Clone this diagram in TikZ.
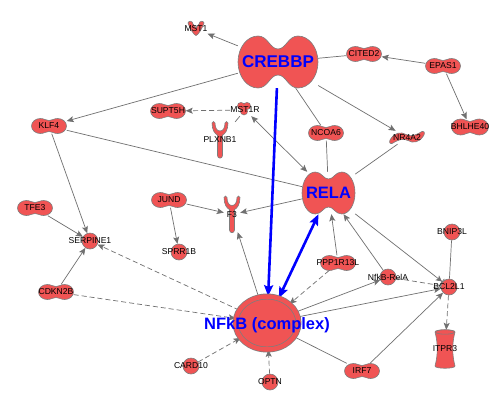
\documentclass[tikz,border=0pt]{standalone}
\usepackage{fontspec}
\setmainfont{Liberation Sans}
\usetikzlibrary{arrows.meta,shapes.geometric}
\definecolor{genered}{RGB}{240,84,84}
\definecolor{rimgray}{RGB}{125,125,125}
\definecolor{edgegray}{RGB}{112,112,112}
\pgfdeclarelayer{paper}
\pgfdeclarelayer{edgelayer}
\pgfdeclarelayer{shapelayer}
\pgfsetlayers{paper,edgelayer,shapelayer,main}
\tikzset{
  blob/.style={fill=genered, draw=rimgray, line width=0.6pt},
  pics/peanut/.style n args={3}{code={
    \path[blob] (0,-#3) .. controls ({0.2*#1},-#3) and ({0.25*#1},-#2) .. ({0.5*#1},-#2)
      .. controls ({0.776*#1},-#2) and (#1,{-0.552*#2}) .. (#1,0)
      .. controls (#1,{0.552*#2}) and ({0.776*#1},#2) .. ({0.5*#1},#2)
      .. controls ({0.25*#1},#2) and ({0.2*#1},#3) .. (0,#3)
      .. controls ({-0.2*#1},#3) and ({-0.25*#1},#2) .. ({-0.5*#1},#2)
      .. controls ({-0.776*#1},#2) and (-#1,{0.552*#2}) .. (-#1,0)
      .. controls (-#1,{-0.552*#2}) and ({-0.776*#1},-#2) .. ({-0.5*#1},-#2)
      .. controls ({-0.25*#1},-#2) and ({-0.2*#1},-#3) .. (0,-#3) -- cycle;
  }},
  pics/cup/.style={code={
    \path[blob] (-8,-6) .. controls (-7.5,-8.5) and (-3.5,-8.5) .. (-3,-5) -- (0,-1) -- (3,-5)
      .. controls (3.5,-8.5) and (7.5,-8.5) .. (8,-6) .. controls (6,0) and (2,6) .. (0,6.5)
      .. controls (-2,6) and (-6,0) .. (-8,-6) -- cycle;
  }},
  pics/trefoil/.style={code={
    \path[draw=rimgray, line width=1.2pt] (-3,-2.5) circle [radius=3.3] (3,-2.5) circle [radius=3.3] (0,2.8) circle [radius=3.3];
    \path[fill=genered] (-3,-2.5) circle [radius=3.3] (3,-2.5) circle [radius=3.3] (0,2.8) circle [radius=3.3];
  }},
  pics/fork/.style={code={
    \path[blob] (-8,-17) .. controls (-8,-10) and (-5,-6) .. (-2.5,-5) -- (-2.5,15.5)
      .. controls (-2.5,19) and (2.5,19) .. (2.5,15.5) -- (2.5,-5)
      .. controls (5,-6) and (8,-10) .. (8,-17) .. controls (8,-19) and (5,-19) .. (5,-17)
      .. controls (5,-12) and (3,-9) .. (0,-9) .. controls (-3,-9) and (-5,-12) .. (-5,-17)
      .. controls (-5,-19) and (-8,-19) .. (-8,-17) -- cycle;
  }},
  pics/channel/.style={code={
    \path[blob] (-10,-17) .. controls (-7,-6) and (-7,6) .. (-10,17) .. controls (-10,20) and (10,20) .. (10,17)
      .. controls (7,6) and (7,-6) .. (10,-17) .. controls (10,-20) and (-10,-20) .. (-10,-17) -- cycle;
    \path[blob] (0,-17) ellipse [x radius=9.5, y radius=2.2];
  }},
  pics/ribbon/.style={code={
    \path[blob] (-16,1) .. controls (-12,-5) and (-6,-6) .. (-1,-3) .. controls (4,0) and (10,-3) .. (15,-6)
      .. controls (18,-7) and (18,-3) .. (16,-1) .. controls (12,5) and (6,6) .. (1,3)
      .. controls (-4,0) and (-10,3) .. (-15,6) .. controls (-18,7) and (-18,3) .. (-16,1) -- cycle;
  }},
}
\begin{document}
\begin{tikzpicture}[x=1pt, y=-1pt,
  gene/.style={font=\fontsize{8.6}{10}\selectfont, inner sep=0pt},
  pea/.style={gene, minimum width=35pt, minimum height=15pt},
  spot/.style={circle, fill=genered, draw=rimgray, line width=0.6pt, minimum size=16pt, inner sep=0pt},
  hub/.style={font=\fontsize{17}{18}\selectfont\bfseries, text=blue, inner sep=0pt},
  touch/.style={draw=edgegray, line width=0.7pt},
  push/.style={touch, -{Stealth[length=7pt, width=6pt, inset=1.5pt]}},
  mutual/.style={touch, {Stealth[length=7pt, width=6pt, inset=1.5pt]}-{Stealth[length=7pt, width=6pt, inset=1.5pt]}},
  hint/.style={push, dash pattern=on 5pt off 3pt},
  loose/.style={touch, dash pattern=on 5pt off 3pt},
  curb/.style={touch, -{Stealth[length=6pt, width=6pt, inset=1.5pt] Bar[width=7pt]}},
  focus/.style={draw=blue, line width=2.6pt, -{Stealth[length=11pt, width=9pt, inset=2pt]}},
  twofocus/.style={focus, {Stealth[length=11pt, width=9pt, inset=2pt]}-{Stealth[length=11pt, width=9pt, inset=2pt]}}]
  \begin{pgfonlayer}{paper}
    \path[use as bounding box, fill=white] (0,0) rectangle (500,405);
  \end{pgfonlayer}
  \node (crebbp) [hub, minimum width=80pt, minimum height=52pt] at (278, 62) {CREBBP};
  \node (rela) [hub, font=\fontsize{16.5}{18}\selectfont\bfseries, minimum width=53pt, minimum height=42pt] at (328.5, 193) {RELA};
  \node (nfkb) [ellipse, fill=genered, draw=rimgray, line width=0.7pt, double=genered, double distance=4.5pt,
    minimum width=63pt, minimum height=53pt,
    label={[hub, font=\fontsize{16.5}{18}\selectfont\bfseries, yshift=-2pt]center:NFkB (complex)}] at (267, 323) {};
  \node (klf4) [pea] at (49, 126) {KLF4};
  \node (supt5h) [pea] at (168, 111) {SUPT5H};
  \node (cited2) [pea] at (364, 54) {CITED2};
  \node (epas1) [pea] at (443, 66) {EPAS1};
  \node (bhlhe40) [pea, minimum width=37pt] at (470, 127) {BHLHE40};
  \node (ncoa6) [pea] at (326, 133) {NCOA6};
  \node (tfe3) [pea] at (35, 208) {TFE3};
  \node (jund) [pea] at (169, 200) {JUND};
  \node (cdkn2b) [pea] at (56, 292) {CDKN2B};
  \node (ppp1r13l) [pea] at (338, 263) {PPP1R13L};
  \node (irf7) [pea] at (362, 371) {IRF7};
  \node (serpine1) [spot, label={[gene]center:SERPINE1}] at (90, 241) {};
  \node (sprr1b) [spot, label={[gene]center:SPRR1B}] at (179, 252) {};
  \node (card10) [spot, label={[gene]center:CARD10}] at (191, 366) {};
  \node (optn) [spot, label={[gene]center:OPTN}] at (270, 382) {};
  \node (bcl2l1) [spot, label={[gene]center:BCL2L1}] at (449, 287) {};
  \node (bnip3l) [spot, label={[gene]center:BNIP3L}] at (452, 232) {};
  \node (nfkbrela) [spot, label={[gene]center:NfkB-RelA}] at (388, 277) {};
  \node (mst1) [gene, minimum width=16pt, minimum height=15pt] at (196, 29) {MST1};
  \node (mst1r) [gene, minimum height=12pt] at (245, 110) {MST1R};
  \node (plxnb1) [gene, minimum width=16pt, minimum height=36pt] at (220, 140) {PLXNB1};
  \node (f3) [gene, minimum width=16pt, minimum height=35pt] at (232, 214.5) {F3};
  \node (nr4a2) [gene, minimum width=35pt, minimum height=13pt] at (407, 137.5) {NR4A2};
  \node (itpr3) [gene, minimum width=20pt, minimum height=38pt] at (445, 349) {ITPR3};
  \begin{pgfonlayer}{shapelayer}
    \pic at (crebbp) {peanut={40}{26}{13}};
    \pic at (rela) {peanut={26.5}{21}{14}};
    \foreach \g in {klf4, supt5h, cited2, epas1, ncoa6, tfe3, jund, cdkn2b, ppp1r13l, irf7}
      \pic at (\g) {peanut={17.5}{7.5}{5.5}};
    \pic at (bhlhe40) {peanut={18.5}{8}{5.5}};
    \pic at (mst1) {cup};
    \pic at ([shift={(-1,-1.5)}]mst1r) {trefoil};
    \pic at (plxnb1) {fork};
    \pic at (f3) {fork};
    \pic at (nr4a2) {ribbon};
    \pic at (itpr3) {channel};
  \end{pgfonlayer}
  \begin{pgfonlayer}{edgelayer}
    \draw[push] (crebbp) -- (mst1);
    \draw[push] (crebbp) -- (klf4);
    \draw[touch] (crebbp) -- (cited2);
    \draw[push] (epas1) -- (cited2);
    \draw[push] (epas1) -- (bhlhe40);
    \draw[push] (crebbp) -- (nr4a2);
    \draw[touch] (crebbp) -- (ncoa6);
    \draw[touch] (ncoa6) -- (rela);
    \draw[touch] (nr4a2) -- (rela);
    \draw[mutual] (mst1r) -- (rela);
    \draw[hint] (mst1r) -- (supt5h);
    \draw[touch] (mst1r) -- (plxnb1);
    \draw[touch] (klf4) -- (rela);
    \draw[push] (klf4) -- (serpine1);
    \draw[push] (tfe3) -- (serpine1);
    \draw[push] (cdkn2b) -- (serpine1);
    \draw[hint] (nfkb) -- (serpine1);
    \draw[hint] (cdkn2b) -- (nfkb);
    \draw[push] (jund) -- (f3);
    \draw[push] (jund) -- (sprr1b);
    \draw[push] (rela) -- (f3);
    \draw[push] (nfkb) -- (f3);
    \draw[push] (ppp1r13l) -- (rela);
    \draw[hint] (ppp1r13l) -- (nfkb);
    \draw[push] (nfkbrela) -- (rela);
    \draw[loose] (nfkbrela) -- (bcl2l1);
    \draw[curb] (rela) -- (bcl2l1);
    \draw[push] (nfkb) -- (nfkbrela);
    \draw[push] (nfkb) -- (bcl2l1);
    \draw[touch] (nfkb) -- (irf7);
    \draw[push] (irf7) -- (bcl2l1);
    \draw[touch] (bnip3l) -- (bcl2l1);
    \draw[hint] (bcl2l1) -- (itpr3);
    \draw[hint] (card10) -- (nfkb);
    \draw[hint] (optn) -- (nfkb);
    \draw[focus] (crebbp) -- (nfkb);
    \draw[twofocus] (rela) -- (nfkb);
  \end{pgfonlayer}
\end{tikzpicture}
\end{document}
